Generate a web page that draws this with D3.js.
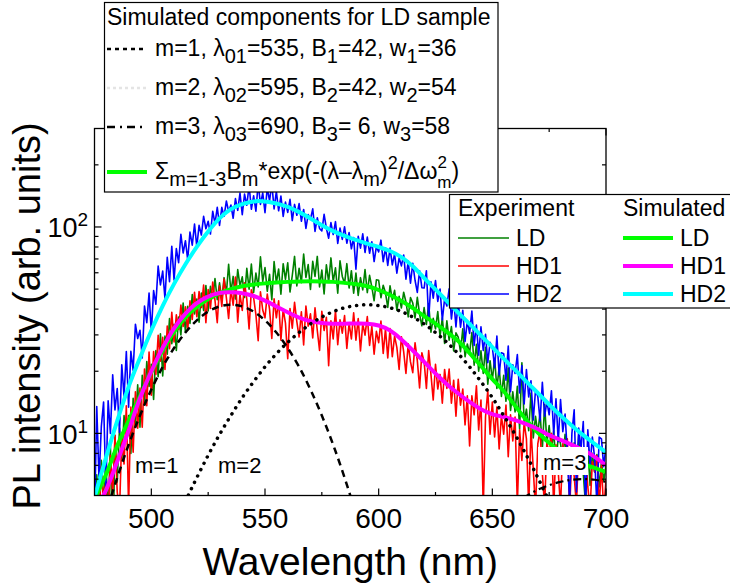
<!DOCTYPE html>
<html>
<head>
<meta charset="utf-8">
<script src="https://cdn.jsdelivr.net/npm/d3@7"></script>
<style>
  body { margin: 0; background: #fff; }
  svg { display: block; font-family: "Liberation Sans", Arial, sans-serif; }
</style>
</head>
<body>
<svg id="chart" width="730" height="588"></svg>
<script>
// measured spectra, 1 nm steps from 475 to 700 nm
const wlStart = 475, wlEnd = 700;

const hd2Exp = [
  3.8, 13.5, 5.9, 10.8, 14.2,  5.4, 14.4, 10.0, 19.2, 13.0,
  16.5, 10.1, 21.5, 15.1, 24.9,  13.4, 25.0, 20.2, 33.8, 28.8,
  31.6, 23.2, 41.4, 34.4, 47.8,  30.8, 49.2, 42.2, 64.6, 52.4,
  61.1, 44.9, 71.3, 54.3, 80.5,  55.4, 78.6, 67.2, 92.2, 74.8,
  85.8, 69.4, 94.4, 81.6, 103.2,  80.2, 101.8, 91.4, 112.6, 98.0,
  106.6, 92.4, 119.2, 103.8, 124.4,  101.8, 124.4, 112.6, 133.6, 118.8,
  127.8, 110.2, 137.2, 120.4, 146.0,  114.6, 144.2, 127.4, 158.8, 121.8,
  141.6, 119.2, 163.4, 128.6, 146.2,  117.4, 154.6, 133.8, 162.0, 122.4,
  148.6, 119.8, 141.2, 112.4, 132.0,  117.6, 136.2, 107.4, 128.6, 114.0,
  129.8, 106.6, 121.6, 98.4, 114.8,  109.0, 122.4, 95.2, 110.8, 98.4,
  95.6, 115.2, 98.6, 88.2, 105.0,  91.9, 106.1, 83.3, 98.7, 87.1,
  100.2, 83.4, 94.0, 78.4, 88.8,  62.4, 90.2, 79.0, 92.6, 75.2,
  89.4, 74.6, 84.8, 68.0, 80.4,  75.7, 86.3, 67.9, 79.3, 65.1,
  79.1, 65.5, 74.1, 59.7, 70.9,  64.8, 73.2, 55.8, 68.4, 53.4,
  66.6, 55.2, 48.2, 61.4, 50.8,  50.6, 61.4, 35.6, 54.2, 45.2,
  55.0, 43.6, 50.0, 35.4, 44.8,  41.4, 50.2, 35.8, 44.6, 32.8,
  43.7, 32.7, 39.5, 27.9, 35.1,  30.5, 39.1, 26.7, 33.5, 23.9,
  32.8, 25.2, 30.2, 22.0, 27.6,  26.2, 20.8, 29.6, 19.2, 24.6,
  24.3, 18.1, 26.5, 15.9, 21.5,  19.5, 24.1, 15.7, 21.3, 13.9,
  20.4, 15.0, 18.0, 11.6, 16.2,  15.1, 11.5, 17.7, 12.1, 14.3,
  12.3, 16.1, 9.9, 14.7, 9.1,  14.6, 10.2, 12.4, 8.0, 4.6,
  10.0, 13.0, 5.2, 10.6, 8.4,  11.4, 4.4, 10.4, 7.0, 9.6,
  7.6, 4.5, 9.6, 9.4, 6.9,  8.8
];

const ldExp = [
  3.1, 6.3, 3.6, 7.4, 4.5,  7.4, 4.0, 8.8, 2.2, 9.8,
  5.8, 10.6, 7.4, 12.2, 9.2,  12.2, 8.0, 14.8, 11.0, 17.2,
  10.7, 19.1, 13.9, 22.3, 16.9,  21.6, 14.6, 25.2, 18.8, 30.4,
  19.0, 29.6, 24.2, 36.0, 27.2,  33.8, 25.2, 36.6, 30.0, 42.8,
  30.9, 41.3, 34.1, 47.1, 37.9,  44.8, 34.6, 47.8, 39.4, 52.0,
  39.2, 51.6, 45.0, 56.2, 44.4,  53.6, 44.2, 56.8, 47.4, 66.0,
  48.4, 57.6, 44.8, 62.2, 51.8,  57.3, 45.5, 63.1, 49.9, 66.1,
  48.2, 59.8, 51.2, 71.6, 54.4,  63.6, 48.8, 59.0, 44.4, 68.0,
  53.6, 62.6, 47.2, 66.4, 55.8,  67.0, 48.4, 58.2, 72.0, 51.8,
  63.1, 53.7, 74.0, 56.9, 65.7,  49.8, 68.2, 57.6, 72.0, 51.2,
  61.8, 47.4, 65.6, 54.2, 70.8,  54.4, 63.4, 47.8, 68.6, 57.6,
  53.2, 66.4, 50.6, 61.4, 47.8,  59.8, 46.6, 56.8, 49.6, 62.2,
  48.1, 58.3, 51.1, 43.9, 55.5,  55.2, 45.4, 52.2, 48.0, 40.8,
  51.9, 44.3, 49.3, 39.5, 46.1,  40.5, 48.3, 43.3, 36.7, 45.5,
  42.8, 36.2, 45.6, 37.8, 33.2,  40.7, 33.7, 42.5, 30.9, 36.1,
  32.1, 38.9, 29.5, 36.3, 27.3,  35.1, 28.3, 32.9, 25.1, 30.7,
  29.3, 24.9, 32.1, 23.5, 27.1,  24.4, 30.8, 21.4, 27.0, 20.0,
  25.1, 19.5, 26.1, 17.3, 22.5,  18.1, 23.1, 16.5, 20.9, 15.1,
  19.1, 14.3, 20.7, 12.9, 15.9,  12.7, 16.9, 10.5, 22.0, 11.3,
  13.1, 10.3, 15.7, 9.5, 12.1,  10.0, 12.6, 8.4, 13.8, 9.0,
  10.9, 8.1, 10.3, 7.1, 9.7,  8.9, 7.5, 9.9, 6.5, 8.3,
  7.4, 9.0, 6.4, 9.8, 6.8,  6.4, 4.5, 8.6, 5.6, 8.0,
  6.5, 7.9, 5.5, 7.3, 5.9,  7.0
];

const hd1Exp = [
  2.9, 5.2, 3.6, 6.9, 4.6,  5.9, 3.7, 7.8, 5.0, 9.8,
  5.2, 4.2, 9.7, 7.1, 13.6,  4.4, 13.4, 8.1, 15.9, 10.6,
  16.6, 10.7, 20.5, 13.6, 24.8,  15.3, 24.9, 19.3, 29.9, 22.4,
  29.2, 20.4, 33.1, 25.7, 38.6,  27.7, 37.5, 31.9, 41.8, 33.0,
  41.0, 31.7, 43.9, 35.6, 48.2,  36.8, 48.6, 40.7, 52.3, 34.4,
  49.7, 40.3, 54.1, 44.1, 34.4,  51.9, 41.2, 55.9, 45.5, 36.0,
  49.7, 41.8, 57.2, 34.6, 47.2,  39.4, 53.7, 44.6, 32.1, 49.6,
  45.4, 37.6, 28.1, 48.5, 39.6,  36.3, 47.3, 40.0, 28.8, 44.9,
  36.3, 43.9, 28.3, 40.0, 34.2,  23.0, 40.2, 32.3, 43.1, 34.8,
  29.3, 38.8, 26.8, 41.4, 33.1,  38.0, 29.0, 40.6, 31.5, 25.2,
  39.0, 31.5, 36.5, 21.3, 35.1,  28.7, 39.4, 26.9, 35.5, 30.6,
  37.2, 25.8, 34.2, 28.7, 38.4,  28.3, 36.0, 25.1, 33.9, 29.9,
  36.8, 26.7, 33.0, 24.2, 31.2,  27.5, 35.0, 24.4, 32.1, 23.2,
  32.2, 23.5, 29.6, 26.1, 20.4,  29.4, 24.9, 19.5, 27.2, 22.2,
  19.7, 27.5, 22.5, 16.6, 24.6,  22.2, 16.5, 25.2, 19.3, 14.5,
  21.6, 16.4, 19.3, 14.0, 20.4,  16.5, 20.5, 14.0, 18.1, 12.1,
  18.3, 13.7, 16.4, 11.0, 15.2,  8.7, 15.2, 12.3, 17.0, 10.4,
  14.5, 4.3, 12.0, 16.1, 9.9,  14.2, 9.6, 13.4, 8.4, 12.2,
  9.9, 13.7, 7.7, 12.3, 9.2,  12.0, 4.5, 10.4, 7.4, 11.3,
  9.4, 4.4, 10.6, 6.7, 4.3,  8.9, 10.3, 6.4, 4.4, 9.1,
  7.8, 10.0, 4.3, 8.8, 6.5,  4.4, 8.9, 6.5, 9.4, 4.2,
  8.1, 6.2, 4.5, 8.6, 7.3,  6.8, 8.2, 5.5, 4.3, 7.3,
  6.5, 7.8, 4.4, 7.0, 4.2,  6.0
];

// simulated curves, 5 nm steps from 475 to 700 nm
const simLD = [4.8, 6.3, 8.7, 11.5, 15.1, 19.8, 25.2, 31, 36.5, 41, 44.8, 47.8, 50, 51.6, 52.6, 53.3,
  53.8, 54.2, 54.5, 54.6, 54.5, 54.2, 53.6, 52.8, 51.6, 49.5, 46.8, 43.8, 40.5, 37, 34, 31, 28, 24.5,
  21.2, 18.3, 16, 13.6, 11.6, 10.1, 9.0, 8.1, 7.5, 7.1, 6.8, 6.5];
const simHD1 = [4.2, 5.3, 7.3, 10.3, 14.8, 20, 26, 32.3, 38, 42.8, 46, 47.9, 48.3, 47.7, 46.3, 44,
  41.2, 38.6, 36.4, 35, 34.3, 34, 34, 34.1, 34, 33.3, 31.5, 28.5, 25.2, 22.2, 19.5, 17.3, 15.6, 14.2,
  13.1, 12.4, 12, 11.6, 11.1, 10.5, 9.8, 9.3, 8.8, 8.3, 7.7, 7.0];
const simHD2 = [4.9, 7.6, 11.5, 16.8, 23.2, 31.5, 41.5, 53, 66, 80, 95, 110, 122, 129, 133, 133,
  130, 125, 118, 110, 102, 95.5, 90.5, 86.5, 83, 80, 76.5, 71.5, 64.5, 56.6, 49.8, 43.8, 38.5, 33.9,
  29.8, 26.2, 23, 20.3, 17.8, 15.7, 13.8, 12.2, 10.9, 9.8, 8.9, 8.1];

// LD components, 5 nm steps
const comp1Wl = d3.range(475, 601, 5);
const comp1 = [2.61, 4.07, 6.10, 8.80, 12.2, 16.3, 21.0, 25.9, 30.8, 35.3, 38.9, 41.2, 42,
  41.2, 38.9, 35.3, 30.8, 25.9, 21.0, 16.3, 12.2, 8.80, 6.10, 4.07, 2.61];
const comp2Wl = d3.range(505, 691, 5);
const comp2 = [2.61, 3.52, 4.68, 6.10, 7.83, 9.87, 12.2, 14.9, 17.8, 21.0, 24.3, 27.6, 30.8, 33.9,
  36.6, 38.9, 40.6, 41.6, 42, 41.6, 40.6, 38.9, 36.6, 33.9, 30.8, 27.6, 24.3, 21.0, 17.8, 14.9,
  12.2, 9.87, 7.83, 6.10, 4.68, 3.52, 2.61, 1.90];
const comp3Wl = d3.range(640, 701, 5);
const comp3 = [2.85, 3.29, 3.73, 4.17, 4.59, 4.98, 5.33, 5.61, 5.82, 5.96, 6.0, 5.96, 5.82];

const xMajor = [500, 550, 600, 650, 700];
const xMinor = [525, 575, 625, 675];
const yMajor = [10, 100];
const yMinor = [6, 7, 8, 9, 20, 30, 40, 50, 60, 70, 80, 90, 200];

const wl1 = d3.range(wlStart, wlEnd + 1, 1);
const wl5 = d3.range(wlStart, wlEnd + 1, 5);

const svg = d3.select('#chart');
const pLeft = 94.5, pRight = 606, pTop = 128.5, pBottom = 495.5;

const x = d3.scaleLinear().domain([475, 700]).range([pLeft, pRight]);
const y = d3.scaleLog().domain([5, 300]).range([pBottom, pTop]);

svg.append('defs').append('clipPath').attr('id', 'plotClip')
  .append('rect').attr('x', pLeft).attr('y', pTop)
  .attr('width', pRight - pLeft).attr('height', pBottom - pTop);

const plot = svg.append('g').attr('clip-path', 'url(#plotClip)');

function drawLine(wl, vals, color, width) {
  const line = d3.line()
    .x((d, i) => x(wl[i]))
    .y(d => y(d));
  return plot.append('path')
    .attr('d', line(vals))
    .style('fill', 'none')
    .style('stroke', color)
    .style('stroke-width', width)
    .style('stroke-linejoin', 'round');
}
function drawCurve(wl, vals, color, width, dash, cap) {
  const line = d3.line()
    .x((d, i) => x(wl[i]))
    .y(d => y(d))
    .curve(d3.curveCatmullRom.alpha(0.5));
  const p = plot.append('path')
    .attr('d', line(vals))
    .style('fill', 'none')
    .style('stroke', color)
    .style('stroke-width', width);
  if (dash) p.style('stroke-dasharray', dash);
  if (cap) p.style('stroke-linecap', cap);
  return p;
}

// experiment
drawLine(wl1, ldExp, '#008000', 1.6);
drawLine(wl1, hd1Exp, '#ff0000', 1.6);
drawLine(wl1, hd2Exp, '#0000ff', 1.6);
// simulated
drawCurve(wl5, simLD, '#00ff00', 4);
drawCurve(wl5, simHD1, '#ff00ff', 4);
drawCurve(wl5, simHD2, '#00ffff', 4);
// components
drawCurve(comp1Wl, comp1, '#000', 2.5, '7,5');
drawCurve(comp2Wl, comp2, '#000', 3.5, '0.1,7', 'round');
drawCurve(comp3Wl, comp3, '#000', 2.2, '8,4,2,4');

// frame and ticks
svg.append('rect')
  .attr('x', pLeft).attr('y', pTop)
  .attr('width', pRight - pLeft).attr('height', pBottom - pTop)
  .style('fill', 'none').style('stroke', '#000').style('stroke-width', 1.3);

const ticks = svg.append('g').style('stroke', '#000').style('stroke-width', 1.2);
xMajor.concat(xMinor).forEach(v => {
  const len = xMajor.includes(v) ? 7 : 3.5;
  ticks.append('line').attr('x1', x(v)).attr('x2', x(v)).attr('y1', pBottom).attr('y2', pBottom - len);
  ticks.append('line').attr('x1', x(v)).attr('x2', x(v)).attr('y1', pTop).attr('y2', pTop + len);
});
yMajor.concat(yMinor).forEach(v => {
  const len = yMajor.includes(v) ? 7 : 4;
  ticks.append('line').attr('x1', pLeft).attr('x2', pLeft + len).attr('y1', y(v)).attr('y2', y(v));
  ticks.append('line').attr('x1', pRight).attr('x2', pRight - len).attr('y1', y(v)).attr('y2', y(v));
});

svg.append('g').selectAll('text').data(xMajor).enter().append('text')
  .attr('x', d => x(d)).attr('y', 528)
  .attr('text-anchor', 'middle')
  .style('font-size', '28px')
  .text(d => d);

const yLab = svg.append('g').selectAll('text').data(yMajor).enter().append('text')
  .attr('x', 88).attr('y', d => y(d) + 10.3)
  .attr('text-anchor', 'end')
  .style('font-size', '27px');
yLab.append('tspan').text('10');
yLab.append('tspan').attr('dy', -11).style('font-size', '19px').text(d => Math.round(Math.log10(d)));

svg.append('text')
  .attr('x', (pLeft + pRight) / 2).attr('y', 575)
  .attr('text-anchor', 'middle')
  .style('font-size', '39px')
  .text('Wavelength (nm)');

svg.append('text')
  .attr('transform', 'translate(40,316) rotate(-90)')
  .attr('text-anchor', 'middle')
  .style('font-size', '38px')
  .text('PL intensity (arb. units)');

// curve labels
function label(tx, ty, txt, bg) {
  if (bg) {
    svg.append('rect').attr('x', bg[0]).attr('y', bg[1]).attr('width', bg[2]).attr('height', bg[3])
      .style('fill', '#fff');
  }
  svg.append('text').attr('x', tx).attr('y', ty).style('font-size', '22px').text(txt);
}
label(135, 473, 'm=1');
label(218, 473, 'm=2');
label(543, 470, 'm=3', [538, 447, 50, 28]);

// rich text helper (sub / superscripts)
function richText(g, tx, ty, parts, size) {
  const t = g.append('text').attr('x', tx).attr('y', ty).style('font-size', size + 'px');
  let shift = 0;
  parts.forEach(p => {
    const target = p.shift !== undefined ? p.shift : (p.sub ? 7 : (p.sup ? -10 : 0));
    const ts = t.append('tspan').text(p.t).attr('dy', target - shift);
    if (p.sub || p.sup) ts.style('font-size', (p.fs || 20) + 'px');
    if (p.dx) ts.attr('dx', p.dx);
    shift = target;
  });
  return t;
}

// legend: components
const leg1 = svg.append('g');
leg1.append('rect').attr('x', 104.5).attr('y', 2.5).attr('width', 393.5).attr('height', 189.5)
  .style('fill', '#fff').style('stroke', '#000').style('stroke-width', 1.2);
leg1.append('text').attr('x', 107).attr('y', 25).style('font-size', '23px')
  .text('Simulated components for LD sample');

const compRows = [
  { dash: '4,4', color: '#000', width: 2.5, y: 49,
    parts: [{ t: 'm=1, λ' }, { t: '01', sub: true }, { t: '=535, B' }, { t: '1', sub: true },
      { t: '=42, w' }, { t: '1', sub: true }, { t: '=36' }] },
  { dash: '3,3', color: '#e4e4e4', width: 2.5, y: 88,
    parts: [{ t: 'm=2, λ' }, { t: '02', sub: true }, { t: '=595, B' }, { t: '2', sub: true },
      { t: '=42, w' }, { t: '2', sub: true }, { t: '=54' }] },
  { dash: '8,5,2,5', color: '#000', width: 2.5, y: 127,
    parts: [{ t: 'm=3, λ' }, { t: '03', sub: true }, { t: '=690, B' }, { t: '3', sub: true },
      { t: '= 6,  w' }, { t: '3', sub: true }, { t: '=58' }] },
  { dash: null, color: '#00ff00', width: 4, y: 172,
    parts: [{ t: 'Σ' }, { t: 'm=1-3', sub: true }, { t: 'B' }, { t: 'm', sub: true },
      { t: '*exp(-(λ–λ' }, { t: 'm', sub: true }, { t: ')' }, { t: '2', sup: true, fs: 18 },
      { t: '/Δω' }, { t: '2', sup: true, fs: 17, shift: -11 },
      { t: 'm', sub: true, fs: 17, shift: 9, dx: -9.5 }, { t: ')' }] }
];
compRows.forEach(r => {
  const l = leg1.append('line').attr('x1', 107).attr('x2', 147).attr('y1', r.y).attr('y2', r.y)
    .style('stroke', r.color).style('stroke-width', r.width);
  if (r.dash) l.style('stroke-dasharray', r.dash);
  richText(leg1, 155, r.y + 6.5, r.parts, 23);
});

// legend: experiment / simulated
const leg2 = svg.append('g');
leg2.append('rect').attr('x', 449.5).attr('y', 194.5).attr('width', 300).attr('height', 113.5)
  .style('fill', '#fff').style('stroke', '#000').style('stroke-width', 1.2);
leg2.append('text').attr('x', 458).attr('y', 216).style('font-size', '23px').text('Experiment');
leg2.append('text').attr('x', 623).attr('y', 216).style('font-size', '23px').text('Simulated');
const expNames = ['LD', 'HD1', 'HD2'];
const expColors = ['#008000', '#ff0000', '#0000ff'];
const simColors = ['#00ff00', '#ff00ff', '#00ffff'];
const rowY = [238, 266, 294];
expNames.forEach((n, i) => {
  leg2.append('line').attr('x1', 458).attr('x2', 509).attr('y1', rowY[i]).attr('y2', rowY[i])
    .style('stroke', expColors[i]).style('stroke-width', 1.6);
  leg2.append('text').attr('x', 516).attr('y', rowY[i] + 7.5).style('font-size', '23px').text(n);
  leg2.append('line').attr('x1', 623).attr('x2', 673).attr('y1', rowY[i]).attr('y2', rowY[i])
    .style('stroke', simColors[i]).style('stroke-width', 4);
  leg2.append('text').attr('x', 680).attr('y', rowY[i] + 7.5).style('font-size', '23px').text(n);
});
</script>
</body>
</html>
